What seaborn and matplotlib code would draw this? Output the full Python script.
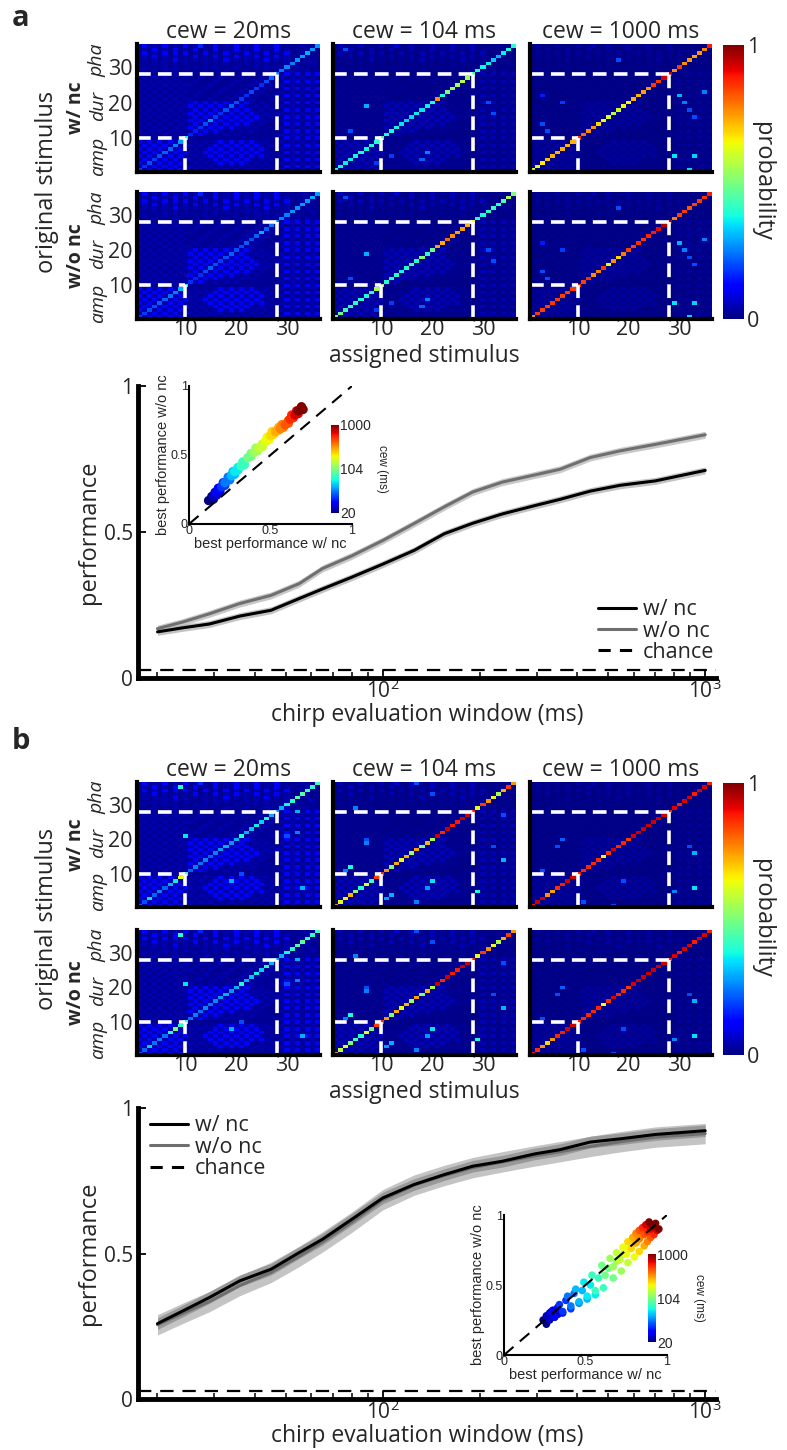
import numpy as np
import pandas as pd
import seaborn as sns
import matplotlib
matplotlib.use("Agg")
import matplotlib.pyplot as plt
import matplotlib.transforms as mtransforms
from matplotlib.colors import Normalize, TwoSlopeNorm
from matplotlib.cm import ScalarMappable
from matplotlib.lines import Line2D

sns.set_style("white")
plt.rcParams['font.family'] = ['Open Sans', 'DejaVu Sans']
plt.rcParams['mathtext.default'] = 'regular'
NARROW = ['Liberation Sans', 'DejaVu Sans']
JET = matplotlib.colormaps['jet']

# -------- data --------
n_stim = 36
chance_level = 1 / n_stim
cew = [20, 24, 29, 36, 45, 55, 65, 80, 100, 125, 155, 190, 235, 295, 355, 440, 545, 700, 1000]

perf_a_wnc = [0.158, 0.172, 0.185, 0.212, 0.232, 0.272, 0.305, 0.345, 0.390, 0.437, 0.494, 0.530,
              0.562, 0.590, 0.612, 0.640, 0.660, 0.675, 0.711]
perf_a_wonc = [0.169, 0.192, 0.220, 0.255, 0.283, 0.323, 0.375, 0.418, 0.471, 0.529, 0.586, 0.637,
               0.671, 0.695, 0.715, 0.755, 0.778, 0.800, 0.833]
perf_b_wnc = [0.259, 0.303, 0.349, 0.406, 0.446, 0.503, 0.549, 0.617, 0.691, 0.737, 0.771, 0.800,
              0.817, 0.842, 0.857, 0.883, 0.894, 0.909, 0.922]
perf_b_wonc = [0.255, 0.295, 0.335, 0.390, 0.435, 0.490, 0.540, 0.607, 0.685, 0.735, 0.768, 0.795,
               0.815, 0.835, 0.850, 0.868, 0.884, 0.900, 0.912]
sem_a = 0.012
sem_b_wnc = 0.02
sem_b_wonc = 0.035

# diagonals of the confusion matrices (stimulus 1..36)
diag_a = {
    ('w/ nc', 20): [0.18, 0.17, 0.20, 0.18, 0.20, 0.22, 0.22, 0.25, 0.28, 0.37, 0.16, 0.15, 0.17, 0.20, 0.27, 0.18, 0.17, 0.20,
                    0.22, 0.20, 0.18, 0.17, 0.20, 0.18, 0.17, 0.20, 0.22, 0.24, 0.24, 0.26, 0.25, 0.27, 0.28, 0.30, 0.28, 0.27],
    ('w/ nc', 104): [0.40, 0.37, 0.36, 0.36, 0.37, 0.38, 0.37, 0.38, 0.40, 0.46, 0.38, 0.38, 0.37, 0.35, 0.33, 0.34, 0.36, 0.35,
                     0.36, 0.38, 0.76, 0.38, 0.50, 0.53, 0.55, 0.57, 0.55, 0.42, 0.38, 0.37, 0.36, 0.32, 0.30, 0.36, 0.38, 0.40],
    ('w/ nc', 1000): [0.62, 0.63, 0.66, 0.70, 0.72, 0.72, 0.72, 0.72, 0.72, 0.86, 0.80, 0.76, 0.75, 0.68, 0.63, 0.62, 0.57, 0.60,
                      0.65, 0.65, 0.72, 0.72, 0.74, 0.75, 0.85, 0.85, 0.92, 0.93, 0.76, 0.85, 0.76, 0.75, 0.74, 0.75, 0.77, 0.88],
    ('w/o nc', 20): [0.18, 0.18, 0.20, 0.20, 0.22, 0.22, 0.24, 0.25, 0.30, 0.37, 0.17, 0.16, 0.17, 0.20, 0.22, 0.20, 0.18, 0.20,
                     0.22, 0.20, 0.20, 0.22, 0.20, 0.22, 0.30, 0.22, 0.24, 0.24, 0.25, 0.25, 0.27, 0.27, 0.28, 0.28, 0.30, 0.28],
    ('w/o nc', 104): [0.50, 0.48, 0.42, 0.40, 0.40, 0.40, 0.38, 0.40, 0.55, 0.55, 0.40, 0.38, 0.40, 0.37, 0.40, 0.42, 0.40, 0.50,
                      0.40, 0.48, 0.74, 0.73, 0.80, 0.75, 0.74, 0.74, 0.72, 0.64, 0.40, 0.38, 0.40, 0.42, 0.40, 0.45, 0.55, 0.50],
    ('w/o nc', 1000): [0.75, 0.85, 0.84, 0.84, 0.85, 0.85, 0.84, 0.84, 0.85, 0.86, 0.84, 0.86, 0.76, 0.78, 0.85, 0.64, 0.76, 0.68,
                       0.78, 0.84, 0.84, 0.86, 0.85, 0.87, 0.88, 0.90, 0.95, 0.95, 0.78, 0.84, 0.85, 0.82, 0.84, 0.85, 0.86, 0.88],
}
diag_b = {
    ('w/ nc', 20): [0.22, 0.20, 0.35, 0.22, 0.25, 0.22, 0.30, 0.36, 0.62, 0.42, 0.22, 0.25, 0.24, 0.26, 0.22, 0.25, 0.28, 0.30,
                    0.27, 0.30, 0.38, 0.30, 0.32, 0.36, 0.33, 0.40, 0.30, 0.28, 0.30, 0.37, 0.40, 0.45, 0.46, 0.42, 0.40, 0.42],
    ('w/ nc', 104): [0.75, 0.63, 0.65, 0.72, 0.52, 0.40, 0.62, 0.42, 0.85, 0.86, 0.75, 0.50, 0.73, 0.63, 0.72, 0.55, 0.74, 0.50,
                     0.72, 0.56, 0.93, 0.87, 0.93, 0.88, 0.88, 0.93, 0.93, 0.88, 0.63, 0.85, 0.75, 0.63, 0.56, 0.73, 0.85, 0.75],
    ('w/ nc', 1000): [0.88, 0.93, 0.93, 0.75, 0.74, 0.86, 0.88, 0.92, 0.93, 0.88, 0.87, 0.87, 0.87, 0.87, 0.64, 0.86, 0.92, 0.87,
                      0.87, 0.85, 0.92, 0.93, 0.93, 0.93, 0.93, 0.93, 0.93, 0.88, 0.92, 0.88, 0.92, 0.92, 0.88, 0.92, 0.92, 0.88],
    ('w/o nc', 20): [0.22, 0.22, 0.33, 0.24, 0.25, 0.24, 0.38, 0.50, 0.40, 0.42, 0.24, 0.25, 0.24, 0.26, 0.24, 0.26, 0.28, 0.30,
                     0.27, 0.30, 0.38, 0.30, 0.32, 0.36, 0.33, 0.40, 0.30, 0.28, 0.30, 0.37, 0.40, 0.45, 0.46, 0.42, 0.40, 0.42],
    ('w/o nc', 104): [0.75, 0.58, 0.62, 0.50, 0.42, 0.40, 0.62, 0.48, 0.85, 0.86, 0.75, 0.50, 0.73, 0.63, 0.72, 0.55, 0.74, 0.50,
                      0.72, 0.56, 0.93, 0.87, 0.93, 0.88, 0.88, 0.93, 0.93, 0.88, 0.63, 0.85, 0.75, 0.63, 0.56, 0.73, 0.85, 0.75],
    ('w/o nc', 1000): [0.88, 0.86, 0.75, 0.68, 0.75, 0.87, 0.88, 0.92, 0.93, 0.88, 0.87, 0.87, 0.87, 0.87, 0.64, 0.86, 0.92, 0.87,
                       0.87, 0.85, 0.92, 0.93, 0.93, 0.93, 0.93, 0.93, 0.93, 0.88, 0.92, 0.88, 0.92, 0.92, 0.88, 0.92, 0.92, 0.88],
}

# off-diagonal texture, rows from stimulus 36 (top) down to 1, levels 0-3
texture_rows = [
    "020102010201300201020102010200001000",
    "010201020102010201020102010201000100",
    "020102020201020102010201020102001000",
    "010201010102010201020102010201000000",
    "010101020101010102010101020101000100",
    "000101010100010101000101010001000010",
    "010001010001010100010001010100010000",
    "000100010000010001000100010001000100",
    "1010101010" + "000100010001000100" + "02120212",
    "0101010101" + "001000100010001000" + "10101010",
    "1010101010" + "010001000100010001" + "02120212",
    "0101010101" + "100010001000100010" + "10101010",
    "1010101010" + "000100010001000100" + "02120212",
    "0101010101" + "001000100010001000" + "10101010",
    "1010101010" + "010001000100010001" + "02120212",
    "0101010101" + "100010001000100010" + "10101010",
    "1010101010" + "121212121012101000" + "02120212",
    "0101010101" + "212121212121010100" + "10101010",
    "1010101010" + "121212121212101010" + "02120212",
    "0101010101" + "212121212121210101" + "10101010",
    "1010101010" + "121212121212121010" + "02120212",
    "0101010101" + "212121212121210100" + "10101010",
    "1010101010" + "121212121212101000" + "02120212",
    "0101010101" + "212121212101010000" + "10101010",
    "1010101010" + "121212101010100000" + "02120212",
    "0101010101" + "212101010100000000" + "10101010",
    "1010101010" + "000000000000000000" + "02120212",
    "2121212121" + "010101212121210100" + "10101010",
    "1212121212" + "101012121212121010" + "02120212",
    "2121212121" + "010121212121212100" + "10101010",
    "1212121212" + "101212121212121010" + "02120212",
    "2121212121" + "010121212121212100" + "10101010",
    "1212121212" + "101012121212101010" + "02120212",
    "2121212121" + "010101212121010100" + "10101010",
    "1212121212" + "101010101010101010" + "02120212",
    "2121212121" + "010101010101010100" + "10101010",
]
texture_levels = [0.02, 0.04, 0.11, 0.16]
texture_weight = {20: 1.0, 104: 0.45, 1000: 0.25}

# visible off-diagonal cells (original stimulus, assigned stimulus, probability)
extra_a = {
    104: [(35, 3, 0.2), (19, 7, 0.3), (12, 4, 0.2), (6, 19, 0.25), (4, 18, 0.22), (20, 31, 0.2),
          (17, 32, 0.2), (5, 12, 0.18), (3, 9, 0.18)],
    1000: [(22, 30, 0.3), (20, 31, 0.25), (18, 32, 0.2), (16, 33, 0.2), (5, 29, 0.35), (5, 33, 0.33),
           (1, 32, 0.35), (23, 35, 0.25), (14, 3, 0.2), (22, 3, 0.15), (12, 4, 0.2), (20, 7, 0.18), (32, 18, 0.2)],
}
extra_b = {
    20: [(35, 9, 0.4), (21, 10, 0.35), (4, 4, 0.33), (8, 19, 0.3), (28, 32, 0.3), (22, 32, 0.25),
         (6, 33, 0.3), (10, 21, 0.2), (21, 30, 0.2)],
    104: [(12, 4, 0.38), (11, 3, 0.25), (20, 7, 0.2), (19, 7, 0.25), (36, 17, 0.2), (8, 20, 0.35),
          (6, 19, 0.28), (4, 12, 0.3), (3, 11, 0.28), (2, 17, 0.25), (5, 29, 0.38), (14, 34, 0.3),
          (27, 34, 0.2), (29, 5, 0.25), (33, 20, 0.2), (18, 32, 0.2)],
    1000: [(20, 7, 0.22), (18, 6, 0.2), (11, 3, 0.2), (8, 19, 0.2), (5, 29, 0.25), (6, 33, 0.35),
           (16, 33, 0.3), (18, 32, 0.2), (2, 11, 0.2), (1, 17, 0.2)],
}

# inset scatter: best performance of single cells (x: w/ nc, y: w/o nc)
ins_a_x = [0.12, 0.15, 0.14, 0.15, 0.17, 0.16, 0.17, 0.19, 0.18, 0.20, 0.22, 0.21, 0.22, 0.25, 0.24,
           0.26, 0.28, 0.27, 0.28, 0.30, 0.30, 0.32, 0.34, 0.33, 0.36, 0.38, 0.38, 0.40, 0.42, 0.41,
           0.43, 0.45, 0.45, 0.47, 0.49, 0.48, 0.50, 0.52, 0.51, 0.53, 0.55, 0.55, 0.56, 0.58, 0.57,
           0.59, 0.61, 0.61, 0.62, 0.64, 0.63, 0.65, 0.67, 0.66, 0.67, 0.70, 0.69]
ins_a_y = [0.17, 0.18, 0.20, 0.20, 0.21, 0.23, 0.23, 0.24, 0.26, 0.27, 0.28, 0.30, 0.30, 0.32, 0.34,
           0.35, 0.36, 0.38, 0.38, 0.39, 0.41, 0.42, 0.43, 0.45, 0.48, 0.49, 0.51, 0.52, 0.53, 0.55,
           0.55, 0.56, 0.58, 0.60, 0.61, 0.63, 0.64, 0.65, 0.67, 0.67, 0.68, 0.70, 0.69, 0.70, 0.72,
           0.72, 0.73, 0.75, 0.76, 0.77, 0.79, 0.79, 0.80, 0.82, 0.82, 0.83, 0.85]
ins_b_x = [0.24, 0.28, 0.31, 0.26, 0.26, 0.30, 0.33, 0.28, 0.29, 0.33, 0.36, 0.31, 0.34, 0.38, 0.41, 0.36,
           0.39, 0.43, 0.46, 0.41, 0.44, 0.48, 0.51, 0.46, 0.49, 0.53, 0.56, 0.51, 0.54, 0.58, 0.61, 0.56,
           0.60, 0.64, 0.67, 0.62, 0.65, 0.69, 0.72, 0.67, 0.69, 0.73, 0.76, 0.71, 0.73, 0.77, 0.80, 0.75,
           0.76, 0.80, 0.83, 0.78, 0.79, 0.83, 0.86, 0.81, 0.81, 0.85, 0.88, 0.83, 0.83, 0.87, 0.90, 0.86,
           0.85, 0.89, 0.92, 0.88, 0.87, 0.91, 0.94, 0.90, 0.89, 0.93, 0.95, 0.91]
ins_b_y = [0.25, 0.30, 0.27, 0.22, 0.28, 0.32, 0.29, 0.25, 0.31, 0.34, 0.30, 0.27, 0.36, 0.39, 0.33, 0.31,
           0.42, 0.44, 0.37, 0.35, 0.47, 0.46, 0.40, 0.38, 0.52, 0.50, 0.43, 0.42, 0.57, 0.55, 0.48, 0.46,
           0.64, 0.62, 0.55, 0.57, 0.69, 0.67, 0.60, 0.63, 0.73, 0.72, 0.66, 0.68, 0.77, 0.76, 0.70, 0.72,
           0.81, 0.80, 0.74, 0.76, 0.84, 0.83, 0.78, 0.80, 0.87, 0.86, 0.81, 0.83, 0.89, 0.89, 0.84, 0.86,
           0.91, 0.91, 0.86, 0.88, 0.93, 0.93, 0.89, 0.90, 0.95, 0.94, 0.90, 0.92]
ins_a_cew = np.repeat(cew, 3)
ins_b_cew = np.repeat(cew, 4)

conditions = ['w/ nc', 'w/o nc']
cew_shown = [20, 104, 1000]
titles = ['cew = 20ms', 'cew = 104 ms', 'cew = 1000 ms']
stim_groups = [('amp', 5), ('dur', 19), ('pha', 32)]

# -------- layout helpers (pixels of the 787x1450 figure) --------
W, H = 787, 1450


def box(x0, y0, x1, y1):
    return [x0 / W, 1 - y1 / H, (x1 - x0) / W, (y1 - y0) / H]


texture = np.array([[texture_levels[int(ch)] for ch in row] for row in texture_rows[::-1]])


def build_matrix(diag, c, extra):
    m = texture * texture_weight[c]
    for r, col, v in extra:
        m[r - 1, col - 1] = v
    for i, v in enumerate(diag):
        m[i, i] = v
    return m


def style_axis(ax, lw=3):
    for side in ['top', 'right']:
        ax.spines[side].set_visible(False)
    for side in ['left', 'bottom']:
        ax.spines[side].set_visible(True)
        ax.spines[side].set_color('black')
        ax.spines[side].set_linewidth(lw)


def draw_cm(ax, m, show_x, show_y):
    sns.heatmap(m, ax=ax, cmap=JET, vmin=0, vmax=1, cbar=False,
                xticklabels=False, yticklabels=False)
    ax.set_xlim(0, n_stim)
    ax.set_ylim(0, n_stim)
    for s in [10, 28]:
        ax.plot([0, s - 0.5], [s - 0.5, s - 0.5], color='white', lw=2.6, dashes=(3.8, 2.0))
        ax.plot([s - 0.5, s - 0.5], [0, s - 0.5], color='white', lw=2.6, dashes=(3.8, 2.0))
    style_axis(ax, 3)
    ax.set_xticks([9.5, 19.5, 29.5])
    ax.set_yticks([9.5, 19.5, 29.5])
    ax.set_xticklabels(['10', '20', '30'] if show_x else [], fontsize=15.5, rotation=0)
    ax.set_yticklabels(['10', '20', '30'] if show_y else [], fontsize=15.5, rotation=0)
    ax.tick_params(direction='in', length=5, width=1.5, color='black', pad=3)
    ax.tick_params(axis='x', pad=0)


def matrix_panel(fig, diag, extra, rows_px, label, label_y):
    cols_px = [(137, 320), (333, 516), (530, 712)]
    for ri, cond in enumerate(conditions):
        y0, y1 = rows_px[ri]
        for ci, c in enumerate(cew_shown):
            ax = fig.add_axes(box(cols_px[ci][0], y0, cols_px[ci][1], y1))
            m = build_matrix(diag[(cond, c)], c, extra.get(c, []))
            draw_cm(ax, m, show_x=(ri == 1), show_y=(ci == 0))
            if ri == 0:
                ax.set_title(titles[ci], fontsize=16.5, pad=3)
            if ci == 0:
                trans = mtransforms.blended_transform_factory(ax.transAxes, ax.transData)
                for name, pos in stim_groups:
                    ax.text(-0.215, pos - 0.5, name, transform=trans, rotation=90, style='italic',
                            fontsize=14, ha='center', va='center')
                ax.text(-0.335, 0.5, cond, transform=ax.transAxes, rotation=90, fontweight='bold',
                        fontsize=14, ha='center', va='center')
    fig.text(47 / W, 1 - ((rows_px[0][0] + rows_px[1][1]) / 2) / H, 'original stimulus',
             rotation=90, fontsize=17, ha='center', va='center')
    fig.text(424 / W, 1 - (rows_px[1][1] + 37) / H, 'assigned stimulus', fontsize=16.5, ha='center', va='center')
    cax = fig.add_axes(box(723, rows_px[0][0] + 1, 744, rows_px[1][1]))
    cb = fig.colorbar(ScalarMappable(Normalize(0, 1), cmap=JET), cax=cax, ticks=[0, 1])
    cb.outline.set_visible(False)
    cb.ax.tick_params(length=0, labelsize=15.5, pad=2)
    cb.ax.set_yticklabels(['0', '1'])
    fig.text(762 / W, 1 - ((rows_px[0][0] + rows_px[1][1]) / 2) / H, 'probability', rotation=270,
             fontsize=17, ha='center', va='center')
    fig.text(12 / W, 1 - label_y / H, label, fontsize=21, fontweight='bold', ha='left', va='center')


cew_norm = TwoSlopeNorm(vmin=np.log10(20), vcenter=np.log10(104), vmax=3)


def line_panel(fig, rect_px, wnc, wonc, sem_wnc, sem_wonc, band_cols, legend_loc, legend_anchor,
               inset_px, cbar_px, ins_x, ins_y, ins_cew, dot_size):
    ax = fig.add_axes(box(*rect_px))
    df = pd.DataFrame({'cew': cew * 2, 'perf': wnc + wonc,
                       'cond': ['w/ nc'] * len(cew) + ['w/o nc'] * len(cew)})
    wnc_a, wonc_a = np.array(wnc), np.array(wonc)
    ax.fill_between(cew, wonc_a - sem_wonc, wonc_a + sem_wonc, color=band_cols[1], lw=0)
    ax.fill_between(cew, wnc_a - sem_wnc, wnc_a + sem_wnc, color=band_cols[0], lw=0, alpha=0.8)
    sns.lineplot(data=df, x='cew', y='perf', hue='cond', palette={'w/ nc': 'black', 'w/o nc': '#6f6f6f'},
                 hue_order=['w/o nc', 'w/ nc'], lw=2.2, legend=False, errorbar=None, ax=ax)
    ax.axhline(chance_level, color='black', lw=1.6, dashes=(6, 4))
    ax.set_xscale('log')
    ax.set_xlim(17.4, 1080)
    ax.set_ylim(0, 1)
    ax.set_yticks([0, 0.5, 1])
    ax.set_yticklabels(['0', '0.5', '1'])
    style_axis(ax, 3.5)
    ax.tick_params(which='major', direction='in', length=6, width=1.3, labelsize=15, color='black')
    ax.tick_params(which='minor', direction='in', length=4, width=1.1, color='black')
    ax.tick_params(axis='x', which='both', bottom=True, pad=1)
    ax.tick_params(axis='y', which='both', left=True)
    ax.set_xlabel('chirp evaluation window (ms)', fontsize=16.5, labelpad=0)
    ax.set_ylabel('performance', fontsize=17, labelpad=2)
    handles = [Line2D([], [], color='black', lw=2.2), Line2D([], [], color='#6f6f6f', lw=2.2),
               Line2D([], [], color='black', lw=2.2, dashes=(4, 3))]
    ax.legend(handles, ['w/ nc', 'w/o nc', 'chance'], loc=legend_loc, bbox_to_anchor=legend_anchor,
              frameon=False, fontsize=15.5, handlelength=1.8, handletextpad=0.3, labelspacing=0.02,
              borderaxespad=0.0, borderpad=0.0)

    ins = fig.add_axes(box(*inset_px))
    ins.patch.set_alpha(0)
    ins.plot([0, 1], [0, 1], color='black', lw=1.5, dashes=(6, 4))
    sns.scatterplot(x=ins_x, y=ins_y, hue=np.log10(ins_cew), palette=JET, hue_norm=cew_norm,
                    s=dot_size, edgecolor='none', legend=False, ax=ins)
    ins.set_xlim(0, 1)
    ins.set_ylim(0, 1)
    ins.set_xticks([0, 0.5, 1])
    ins.set_yticks([0, 0.5, 1])
    ins.set_xticklabels(['0', '0.5', '1'], family=NARROW)
    ins.set_yticklabels(['0', '0.5', '1'], family=NARROW)
    style_axis(ins, 1.5)
    ins.tick_params(direction='in', length=3, width=1, labelsize=9, pad=1, color='black')
    ins.set_xlabel('best performance w/ nc', fontsize=10.5, family=NARROW, labelpad=0)
    ins.set_ylabel('best performance w/o nc', fontsize=10.5, family=NARROW, labelpad=0)

    cax = fig.add_axes(box(*cbar_px))
    cb = fig.colorbar(ScalarMappable(cew_norm, cmap=JET), cax=cax,
                      ticks=[np.log10(20), np.log10(104), 3])
    cb.outline.set_visible(False)
    cb.ax.set_yticklabels(['20', '104', '1000'], family=NARROW)
    cb.ax.tick_params(length=0, labelsize=10, pad=1)
    cb.set_label('cew (ms)', rotation=270, fontsize=8.5, labelpad=12, family=NARROW)


# -------- figure --------
fig = plt.figure(figsize=(W / 100, H / 100), dpi=100)

matrix_panel(fig, diag_a, extra_a, [(44, 172), (192, 319)], 'a', 18)
line_panel(fig, (138, 386, 716, 678), perf_a_wnc, perf_a_wonc, sem_a, sem_a,
           ('#b5b5b5', '#c9c9c9'), 'upper left', (0.795, 0.27), (189, 386, 352, 524), (331, 425, 339, 513),
           ins_a_x, ins_a_y, ins_a_cew, 45)

matrix_panel(fig, diag_b, extra_b, [(782, 907), (930, 1055)], 'b', 742)
line_panel(fig, (138, 1108, 716, 1399), perf_b_wnc, perf_b_wonc, sem_b_wnc, sem_b_wonc,
           ('#8f8f8f', '#c4c4c4'), 'upper left', (0.02, 0.975), (504, 1215, 667, 1355), (648, 1254, 656, 1342),
           ins_b_x, ins_b_y, ins_b_cew, 30)

fig.savefig('out.png', dpi=100)
